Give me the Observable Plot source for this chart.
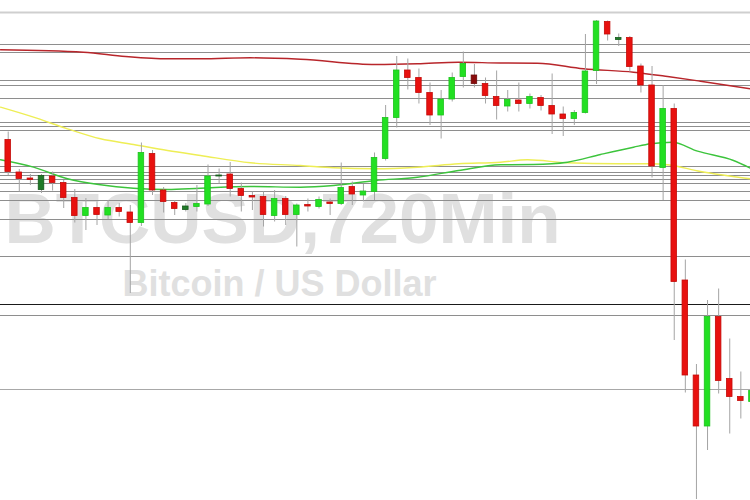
<!DOCTYPE html>
<html><head><meta charset="utf-8">
<script src="https://cdn.jsdelivr.net/npm/d3@7"></script>
<script src="https://cdn.jsdelivr.net/npm/@observablehq/plot@0.6"></script>
<style>body{margin:0;background:#fff;}#chart{width:750px;height:500px;overflow:hidden;}</style>
</head><body><div id="chart"></div>
<script>
const title = "BTCUSD,720Min";
const subtitle = "Bitcoin / US Dollar";

const open  = [6221,6156,6144,6121,6148,6135,6105,6069,6085,6070,6085,6076,6055,6193,6120,6095,6081,6087,6092,6148,6152,6123,6109,6107,6069,6103,6071,6091,6087,6096,6093,6127,6110,6117,6183,6265,6360,6345,6315,6270,6302,6347,6350,6333,6307,6288,6300,6293,6305,6289,6272,6263,6275,6359,6457,6421,6425,6368,6330,6165,6283,5940,5750,5648,5867,5743,5707,5697];
const high  = [6237,6162,6152,6152,6157,6140,6122,6104,6097,6100,6094,6090,6215,6200,6126,6100,6094,6130,6171,6163,6176,6135,6117,6117,6120,6108,6093,6103,6107,6103,6175,6137,6132,6195,6290,6388,6383,6363,6335,6320,6355,6397,6372,6345,6359,6320,6335,6313,6310,6353,6287,6280,6432,6460,6459,6433,6428,6373,6368,6330,6293,5981,5772,5900,5923,5823,5757,5740];
const low   = [6150,6117,6130,6114,6119,6084,6055,6040,6050,6062,6067,5914,6048,6110,6075,6070,6077,6077,6088,6133,6107,6077,6080,6047,6057,6050,6007,6077,6083,6070,6090,6090,6097,6100,6179,6245,6321,6293,6250,6223,6297,6325,6325,6293,6261,6277,6277,6283,6279,6232,6228,6250,6273,6332,6419,6408,6357,6315,6145,6100,5820,5715,5502,5600,5713,5633,5663,5680];
const close = [6157,6143,6141,6149,6135,6105,6069,6085,6071,6085,6077,6055,6195,6120,6097,6083,6088,6093,6148,6150,6123,6109,6106,6071,6103,6071,6090,6088,6101,6093,6125,6112,6118,6185,6265,6360,6345,6315,6270,6302,6345,6373,6333,6309,6289,6301,6293,6307,6289,6272,6263,6275,6358,6458,6432,6425,6367,6330,6168,6283,5937,5750,5648,5867,5739,5707,5699,5719];

const levels = [6476,6412,6396,6340,6330,6304,6256,6248,6240,6168,6156,6150,6142,6134,6118,6100,6062,5988,5892,5870,5722];
const levelKind = ["top","g","g","g","g","g","g","g","g","g","g","g","g","g","g","g","g","g","dark","g","light"];

// slow (red) MA readings
const maRedX = [-0.69,6.78,10.57,14.35,17.32,21.83,26.33,33.09,36.87,40.57,44.35,47.68,51.83,56.33,59.4,62.37,66.87];
const maRed  = [6401.4,6396.6,6388,6383.4,6383.4,6385.4,6382.6,6372,6373.4,6376.6,6375,6374.6,6363.4,6356.6,6348,6338.6,6323.4];
// medium (yellow) MA readings
const maYelX = [-0.69,2.28,5.34,8.32,11.29,14.35,17.32,21.83,26.33,29.31,33.09,36.87,40.57,44.35,46.78,50.39,54.89,57.86,59.4,62.37,66.87];
const maYel  = [6286.6,6266.6,6243.4,6223.4,6212,6200,6190,6175.4,6170,6165.4,6163.4,6166.6,6173.4,6176.6,6181.4,6175.4,6173.4,6173.4,6171.4,6158,6143.4];
// fast (green) MA readings
const maGrnX = [-0.69,2.28,5.34,8.32,11.29,14.35,17.32,21.83,26.33,29.31,33.09,36.87,40.57,44.35,47.32,50.39,53.36,56.33,57.86,59.84,62.1,65.34,66.87];
const maGrn  = [6181.4,6166.6,6143.4,6131.4,6124.6,6122,6124.6,6128,6126.6,6130,6140,6146.6,6160,6171.4,6172,6176.6,6192,6206.6,6213.4,6216.6,6198.6,6180,6164.6];

const darkUp = new Set([3,16,19,55]);
const darkDown = new Set([42]);

const candles = open.map((o,i)=>({i, open:o, high:high[i], low:low[i], close:close[i]}));
const lv = levels.map((v,k)=>({v, kind:levelKind[k]}));
const ma = (xs, ys) => xs.map((x,k)=>({x, y:ys[k]}));

function bodyFill(d){
  if (d.close >= d.open) return darkUp.has(d.i) ? "#1f7a28" : "#22e022";
  return darkDown.has(d.i) ? "#8a0c0c" : "#e8110f";
}
function bodyStroke(d){
  if (d.close >= d.open) return darkUp.has(d.i) ? "#145a1a" : "#1cc21c";
  return darkDown.has(d.i) ? "#6a0808" : "#c40a08";
}

const chart = Plot.plot({
  width: 750, height: 500, margin: 0,
  style: {background: "#fff"},
  x: {domain: [-0.694, 66.87], axis: null},
  y: {domain: [5500, 6500], axis: null},
  marks: [
    Plot.text([title], {text: d=>d, frameAnchor: "middle", dx: -93, dy: -8, lineAnchor: "bottom",
      fontSize: 71, fontWeight: "bold", fontFamily: "Liberation Sans, Arial, sans-serif", fill: "#e0e0e0"}),
    Plot.text([subtitle], {text: d=>d, frameAnchor: "middle", dx: -96, dy: 45, lineAnchor: "bottom",
      fontSize: 36, fontWeight: "bold", fontFamily: "Liberation Sans, Arial, sans-serif", fill: "#e0e0e0"}),
    Plot.ruleY(lv.filter(d=>d.kind==="top"), {y:"v", stroke:"#cfcfcf", strokeWidth:2}),
    Plot.ruleY(lv.filter(d=>d.kind==="g"), {y:"v", stroke:"#8e8e8e", strokeWidth:1}),
    Plot.ruleY(lv.filter(d=>d.kind==="light"), {y:"v", stroke:"#a8a8a8", strokeWidth:1}),
    Plot.ruleY(lv.filter(d=>d.kind==="dark"), {y:"v", stroke:"#1a1a1a", strokeWidth:1.2}),
    Plot.line(ma(maRedX, maRed), {x:"x", y:"y", stroke:"#b8262b", strokeWidth:1.4, curve:"monotone-x"}),
    Plot.line(ma(maYelX, maYel), {x:"x", y:"y", stroke:"#eeee55", strokeWidth:1.4, curve:"monotone-x"}),
    Plot.line(ma(maGrnX, maGrn), {x:"x", y:"y", stroke:"#3cc43c", strokeWidth:1.4, curve:"monotone-x"}),
    Plot.ruleX(candles, {x:"i", y1:"low", y2:"high", stroke:"#a4a4a4", strokeWidth:1}),
    Plot.rect(candles, {x1: d=>d.i-0.25, x2: d=>d.i+0.25, y1:"open", y2:"close", fill: bodyFill, stroke: bodyStroke, strokeWidth: 0.8})
  ]
});
document.getElementById("chart").appendChild(chart);
</script>
</body></html>
